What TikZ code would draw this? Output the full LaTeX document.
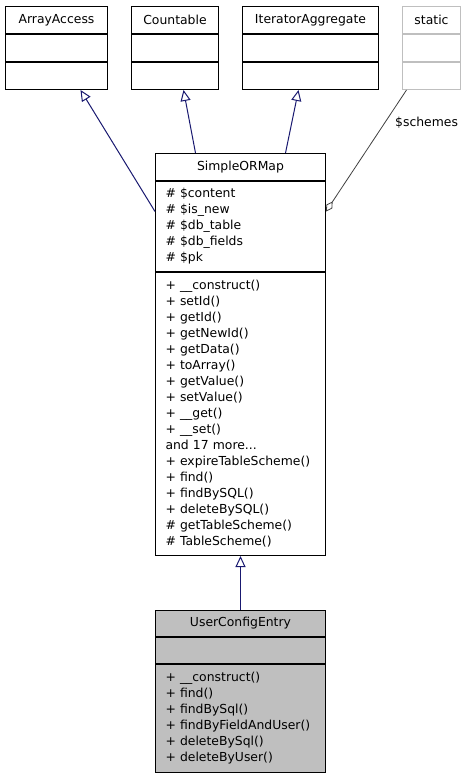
\documentclass[tikz,border=0pt]{standalone}
\usepackage{fontspec}
\setmainfont{DejaVu Sans}
\usetikzlibrary{positioning}
\usetikzlibrary{arrows.meta}
\definecolor{edgeblue}{HTML}{191970}
\definecolor{classgray}{HTML}{BFBFBF}
\definecolor{assocgray}{HTML}{404040}

\begin{document}
\begin{tikzpicture}[x=1pt,y=-1pt,
    font=\fontsize{12.4}{16}\selectfont,
    classhead/.style={draw, line width=1pt, inner sep=0pt, minimum height=27pt, align=center},
    classbox/.style={draw, line width=1pt, inner sep=0pt, minimum height=27pt},
    classlist/.style={draw, line width=1pt, inner xsep=10pt, inner ysep=0pt, text width=150pt, align=left},
    genarrow/.style={draw=edgeblue, line width=1pt, -{Triangle[open,length=11pt,width=10pt]}},
    assocline/.style={draw=assocgray, line width=0.8pt, {Diamond[open,length=12pt,width=7pt]}-}]
    \useasboundingbox (0,0) rectangle (463,773);
			% interfaces along the top
			\node[classhead, minimum width=102pt, anchor=north west] (ArrayAccess) at (5,6) {ArrayAccess};
			\node[classbox, minimum width=102pt, below=0pt of ArrayAccess] (ArrayAccessAttr) {};
			\node[classbox, minimum width=102pt, below=0pt of ArrayAccessAttr] (ArrayAccessOps) {};
			\node[classhead, minimum width=87pt, right=23pt of ArrayAccess] (Countable) {Countable};
			\node[classbox, minimum width=87pt, below=0pt of Countable] (CountableAttr) {};
			\node[classbox, minimum width=87pt, below=0pt of CountableAttr] (CountableOps) {};
			\node[classhead, minimum width=136pt, right=23pt of Countable] (IteratorAggregate) {IteratorAggregate};
			\node[classbox, minimum width=136pt, below=0pt of IteratorAggregate] (IteratorAggregateAttr) {};
			\node[classbox, minimum width=136pt, below=0pt of IteratorAggregateAttr] (IteratorAggregateOps) {};
			\node[classhead, draw=classgray, minimum width=58pt, right=23pt of IteratorAggregate] (static) {static};
			\node[classbox, draw=classgray, minimum width=58pt, below=0pt of static] (staticAttr) {};
			\node[classbox, draw=classgray, minimum width=58pt, below=0pt of staticAttr] (staticOps) {};
			% base class
			\node[classhead, minimum width=170pt, anchor=north west] (SimpleORMap) at (155,153) {SimpleORMap};
			\node[classlist, minimum height=90pt, below=0pt of SimpleORMap] (SimpleORMapAttr) {\# \$content\\\# \$is\_new\\\# \$db\_table\\\# \$db\_fields\\\# \$pk};
			\node[classlist, minimum height=283pt, below=0pt of SimpleORMapAttr] (SimpleORMapOps) {+ \_\_construct()\\+ setId()\\+ getId()\\+ getNewId()\\+ getData()\\+ toArray()\\+ getValue()\\+ setValue()\\+ \_\_get()\\+ \_\_set()\\and 17 more...\\+ expireTableScheme()\\+ find()\\+ findBySQL()\\+ deleteBySQL()\\\# getTableScheme()\\\# TableScheme()};
			% derived class
			\node[classhead, fill=classgray, minimum width=170pt, minimum height=26pt, below=54pt of SimpleORMapOps] (UserConfigEntry) {UserConfigEntry};
			\node[classbox, fill=classgray, minimum width=170pt, minimum height=26pt, below=0pt of UserConfigEntry] (UserConfigEntryAttr) {};
			\node[classlist, fill=classgray, minimum height=108pt, below=0pt of UserConfigEntryAttr] (UserConfigEntryOps) {+ \_\_construct()\\+ find()\\+ findBySql()\\+ findByFieldAndUser()\\+ deleteBySql()\\+ deleteByUser()};
			% connectors
			\draw[genarrow] ([yshift=15pt]SimpleORMapAttr.west) to ([xshift=24pt]ArrayAccessOps.south);
			\draw[genarrow] ([xshift=-45pt]SimpleORMap.north) to ([xshift=8.5pt]CountableOps.south);
			\draw[genarrow] ([xshift=45pt]SimpleORMap.north) to ([xshift=-12pt]IteratorAggregateOps.south);
			\draw[genarrow] (UserConfigEntry.north) to (SimpleORMapOps.south);
			\draw[assocline] ([yshift=15pt]SimpleORMapAttr.east) to node[pos=0.73, right=10pt, inner sep=0pt] {\$schemes} ([xshift=-25pt]staticOps.south);
		\end{tikzpicture}
\end{document}
